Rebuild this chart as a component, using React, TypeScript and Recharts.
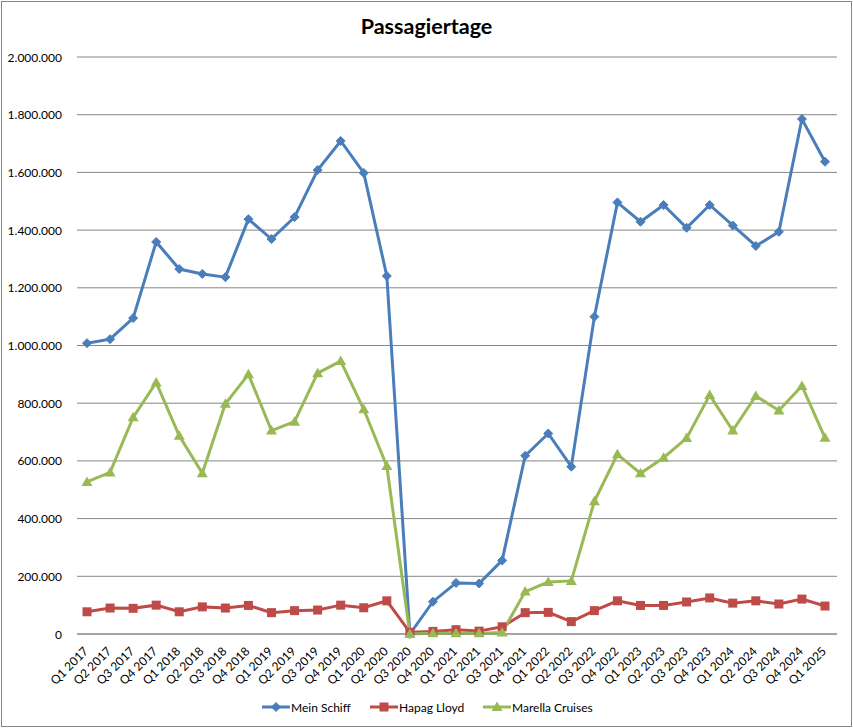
import { LineChart, Line, XAxis, YAxis, CartesianGrid } from 'recharts';

// quarters shown on the category axis
const quarters = [
  'Q1 2017', 'Q2 2017', 'Q3 2017', 'Q4 2017',
  'Q1 2018', 'Q2 2018', 'Q3 2018', 'Q4 2018',
  'Q1 2019', 'Q2 2019', 'Q3 2019', 'Q4 2019',
  'Q1 2020', 'Q2 2020', 'Q3 2020', 'Q4 2020',
  'Q1 2021', 'Q2 2021', 'Q3 2021', 'Q4 2021',
  'Q1 2022', 'Q2 2022', 'Q3 2022', 'Q4 2022',
  'Q1 2023', 'Q2 2023', 'Q3 2023', 'Q4 2023',
  'Q1 2024', 'Q2 2024', 'Q3 2024', 'Q4 2024',
  'Q1 2025',
];

const meinSchiff = [
  1008000, 1022000, 1095000, 1359000,
  1265000, 1248000, 1237000, 1438000,
  1369000, 1445000, 1608000, 1709000,
  1598000, 1241000, 0, 112000,
  177000, 175000, 255000, 618000,
  695000, 580000, 1100000, 1496000,
  1429000, 1487000, 1408000, 1487000,
  1416000, 1345000, 1394000, 1785000,
  1637000,
];

const hapagLloyd = [
  77000, 90000, 89000, 100000,
  77000, 94000, 90000, 99000,
  74000, 81000, 83000, 100000,
  91000, 115000, 6000, 9000,
  15000, 10000, 25000, 74000,
  75000, 43000, 81000, 115000,
  99000, 99000, 111000, 125000,
  107000, 115000, 104000, 121000,
  97000,
];

const marella = [
  527000, 560000, 751000, 872000,
  687000, 557000, 798000, 900000,
  705000, 736000, 904000, 946000,
  779000, 582000, 0, 3000,
  3000, 3000, 5000, 147000,
  180000, 184000, 460000, 623000,
  557000, 611000, 679000, 828000,
  705000, 825000, 775000, 860000,
  680000,
];

const yTicks = [0, 200000, 400000, 600000, 800000, 1000000, 1200000, 1400000, 1600000, 1800000, 2000000];

const BLUE = '#4A7EBB';
const RED = '#BE4B48';
const GREEN = '#98B954';
const GRID = '#868686';
const FONT = 'Lato, "Open Sans", sans-serif';

const data = quarters.map((q, i) => ({
  q,
  ms: meinSchiff[i],
  hl: hapagLloyd[i],
  mc: marella[i],
}));

// 1.200.000 style, German thousands separator
const fmt = (v: number) => String(v).replace(/\B(?=(\d{3})+(?!\d))/g, '.');

const Diamond = ({ cx, cy, color }: any) => (
  <path d={`M${cx},${cy - 4.5}L${cx + 4.5},${cy}L${cx},${cy + 4.5}L${cx - 4.5},${cy}Z`} fill={color} stroke={color} strokeWidth={1} />
);

const Square = ({ cx, cy, color }: any) => (
  <rect x={cx - 4.5} y={cy - 4.5} width={9} height={9} fill={color} />
);

const Triangle = ({ cx, cy, color }: any) => (
  <path d={`M${cx},${cy - 5.5}L${cx + 5.5},${cy + 4}L${cx - 5.5},${cy + 4}Z`} fill={color} />
);

const YTick = ({ x, y, payload }: any) => (
  <text x={x} y={y} dy={4.5} textAnchor="end" fontSize={12} fontFamily={FONT} fill="#000">
    {fmt(payload.value)}
  </text>
);

const XTick = ({ x, y, payload }: any) => {
  const ax = x + 2;
  const ay = 652;
  return (
    <text
      x={ax}
      y={ay}
      textAnchor="end"
      fontSize={12}
      fontFamily={FONT}
      fill="#000"
      transform={`rotate(-45, ${ax}, ${ay})`}
    >
      {payload.value}
    </text>
  );
};

const legendItems = [
  { name: 'Mein Schiff', color: BLUE, shape: Diamond, x: 262 },
  { name: 'Hapag Lloyd', color: RED, shape: Square, x: 370 },
  { name: 'Marella Cruises', color: GREEN, shape: Triangle, x: 483 },
];

function ChartLegend() {
  return (
    <svg width={853} height={30} style={{ position: 'absolute', left: 0, top: 692 }}>
      {legendItems.map((it) => {
        const Shape = it.shape;
        return (
          <g key={it.name}>
            <line x1={it.x} x2={it.x + 28} y1={15} y2={15} stroke={it.color} strokeWidth={3} />
            <Shape cx={it.x + 14} cy={15} color={it.color} />
            <text x={it.x + 29} y={19.5} fontSize={12} fontFamily={FONT} fill="#000">
              {it.name}
            </text>
          </g>
        );
      })}
    </svg>
  );
}

export default function App() {
  return (
    <div style={{ position: 'absolute', left: 0, top: 0, width: 853, height: 728, background: '#fff' }}>
      <div
        style={{
          position: 'absolute',
          left: 1,
          top: 1,
          width: 849,
          height: 724,
          border: `1px solid ${GRID}`,
        }}
      />
      <div
        style={{
          position: 'absolute',
          left: 0,
          top: 13,
          width: 853,
          textAlign: 'center',
          fontFamily: FONT,
          fontWeight: 'bold',
          fontSize: 21.5,
          color: '#000',
        }}
      >
        Passagiertage
      </div>
      <div style={{ position: 'absolute', left: 0, top: 0 }}>
        <LineChart width={853} height={728} data={data} margin={{ top: 57, right: 16, bottom: 64, left: 7 }}>
          <CartesianGrid vertical={false} stroke={GRID} strokeWidth={1} />
          <XAxis
            dataKey="q"
            interval={0}
            tick={<XTick />}
            tickLine={false}
            axisLine={{ stroke: GRID }}
            height={30}
            padding={{ left: 10, right: 12 }}
          />
          <YAxis
            type="number"
            domain={[0, 2000000]}
            ticks={yTicks}
            interval={0}
            width={70}
            tick={<YTick />}
            tickLine={false}
            axisLine={false}
            tickMargin={9}
          />
          <Line
            dataKey="ms"
            name="Mein Schiff"
            stroke={BLUE}
            strokeWidth={3}
            dot={<Diamond color={BLUE} />}
            isAnimationActive={false}
          />
          <Line
            dataKey="hl"
            name="Hapag Lloyd"
            stroke={RED}
            strokeWidth={3}
            dot={<Square color={RED} />}
            isAnimationActive={false}
          />
          <Line
            dataKey="mc"
            name="Marella Cruises"
            stroke={GREEN}
            strokeWidth={3}
            dot={<Triangle color={GREEN} />}
            isAnimationActive={false}
          />
        </LineChart>
      </div>
      <ChartLegend />
    </div>
  );
}
